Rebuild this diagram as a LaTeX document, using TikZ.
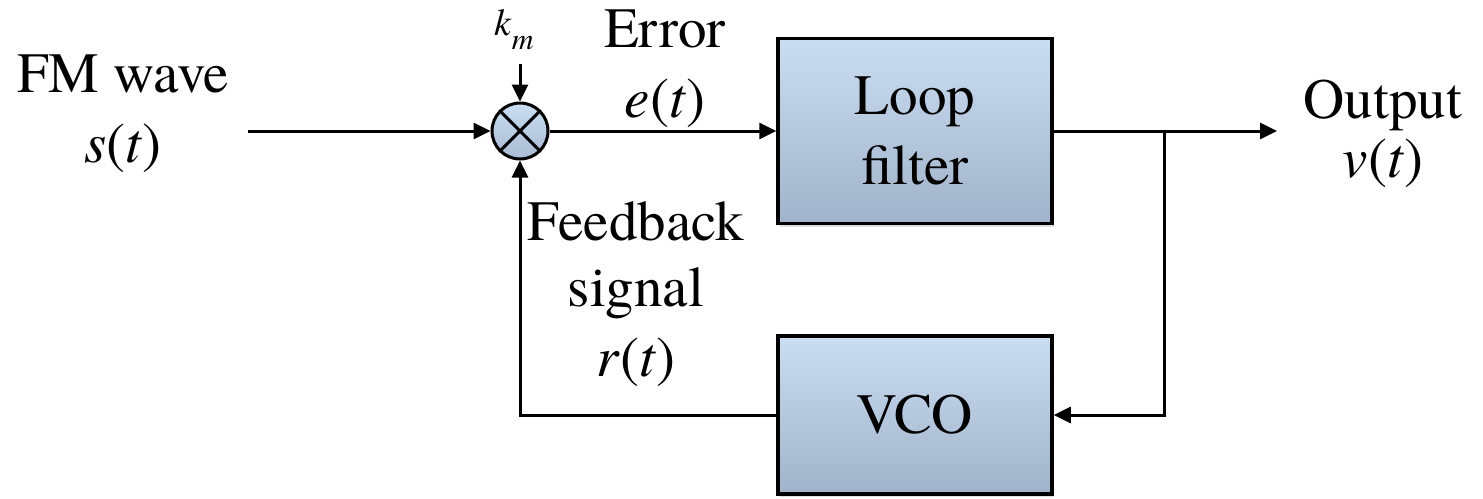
\documentclass[tikz,border=0pt]{standalone}
\usepackage{fontspec}
\setmainfont{texgyretermes}[Extension=.otf,UprightFont=*-regular,ItalicFont=*-italic,BoldFont=*-bold,BoldItalicFont=*-bolditalic]
\usetikzlibrary{arrows.meta,positioning,shadows}
\definecolor{blkTop}{RGB}{202,221,241}
\definecolor{blkBot}{RGB}{160,179,202}

\begin{document}
\begin{tikzpicture}[x=1pt,y=-1pt,
  font=\fontsize{57}{70}\selectfont,
  >={Triangle[length=17pt,width=16pt]},
  line width=3pt,
  block/.style={draw,line width=3.5pt,align=center,inner sep=0,
    minimum width=274pt,minimum height=185pt,
    top color=blkTop,bottom color=blkBot,
    drop shadow={opacity=0.25,shadow xshift=2pt,shadow yshift=-3pt}},
  mult/.style={draw,circle,minimum size=56pt,inner sep=0,
    top color=blkTop,bottom color=blkBot!80!blkTop},
  lbl/.style={align=center,inner sep=0,anchor=north}]
\useasboundingbox (0,0) rectangle (1483,498);

% blocks
\node [mult] (mix) at (520,131) {};
\draw (mix.north west) -- (mix.south east) (mix.north east) -- (mix.south west);
\node [block] (lf) at (915,131) {Loop\\filter};
\node [block,minimum height=158pt] (vco) at (915,415) {VCO};

% ends of the lines
\coordinate (in) at (248,131);
\coordinate (kin) at (520,64);
\coordinate (out) at (1277,131);
\coordinate (br) at (1164,131);

% connections
\draw [->] (in) -- (mix);
\draw [->] (kin) -- (mix);
\draw [->] (mix) -- (lf);
\draw [->] (lf) -- (out);
\draw [->] (br) |- (vco);
\draw [->] (vco) -| (mix);

% labels
\node [lbl] (fm) at (123,53) {FM wave\\\textit{s}(\textit{t})};
\node [lbl] (km) at (514,8) {\fontsize{38}{38}\selectfont\textit{k}\raisebox{-14pt}{\fontsize{30}{30}\selectfont\textit{m}}};
\node [lbl] (err) at (665,8) {Error\\\textit{e}(\textit{t})};
\node [lbl] (res) at (1383,78) {Output\\[-11pt]\textit{v}(\textit{t})};
\node [lbl] (fb) at (636,200) {Feedback\\[-4pt]signal\\\textit{r}(\textit{t})};
\end{tikzpicture}
\end{document}
